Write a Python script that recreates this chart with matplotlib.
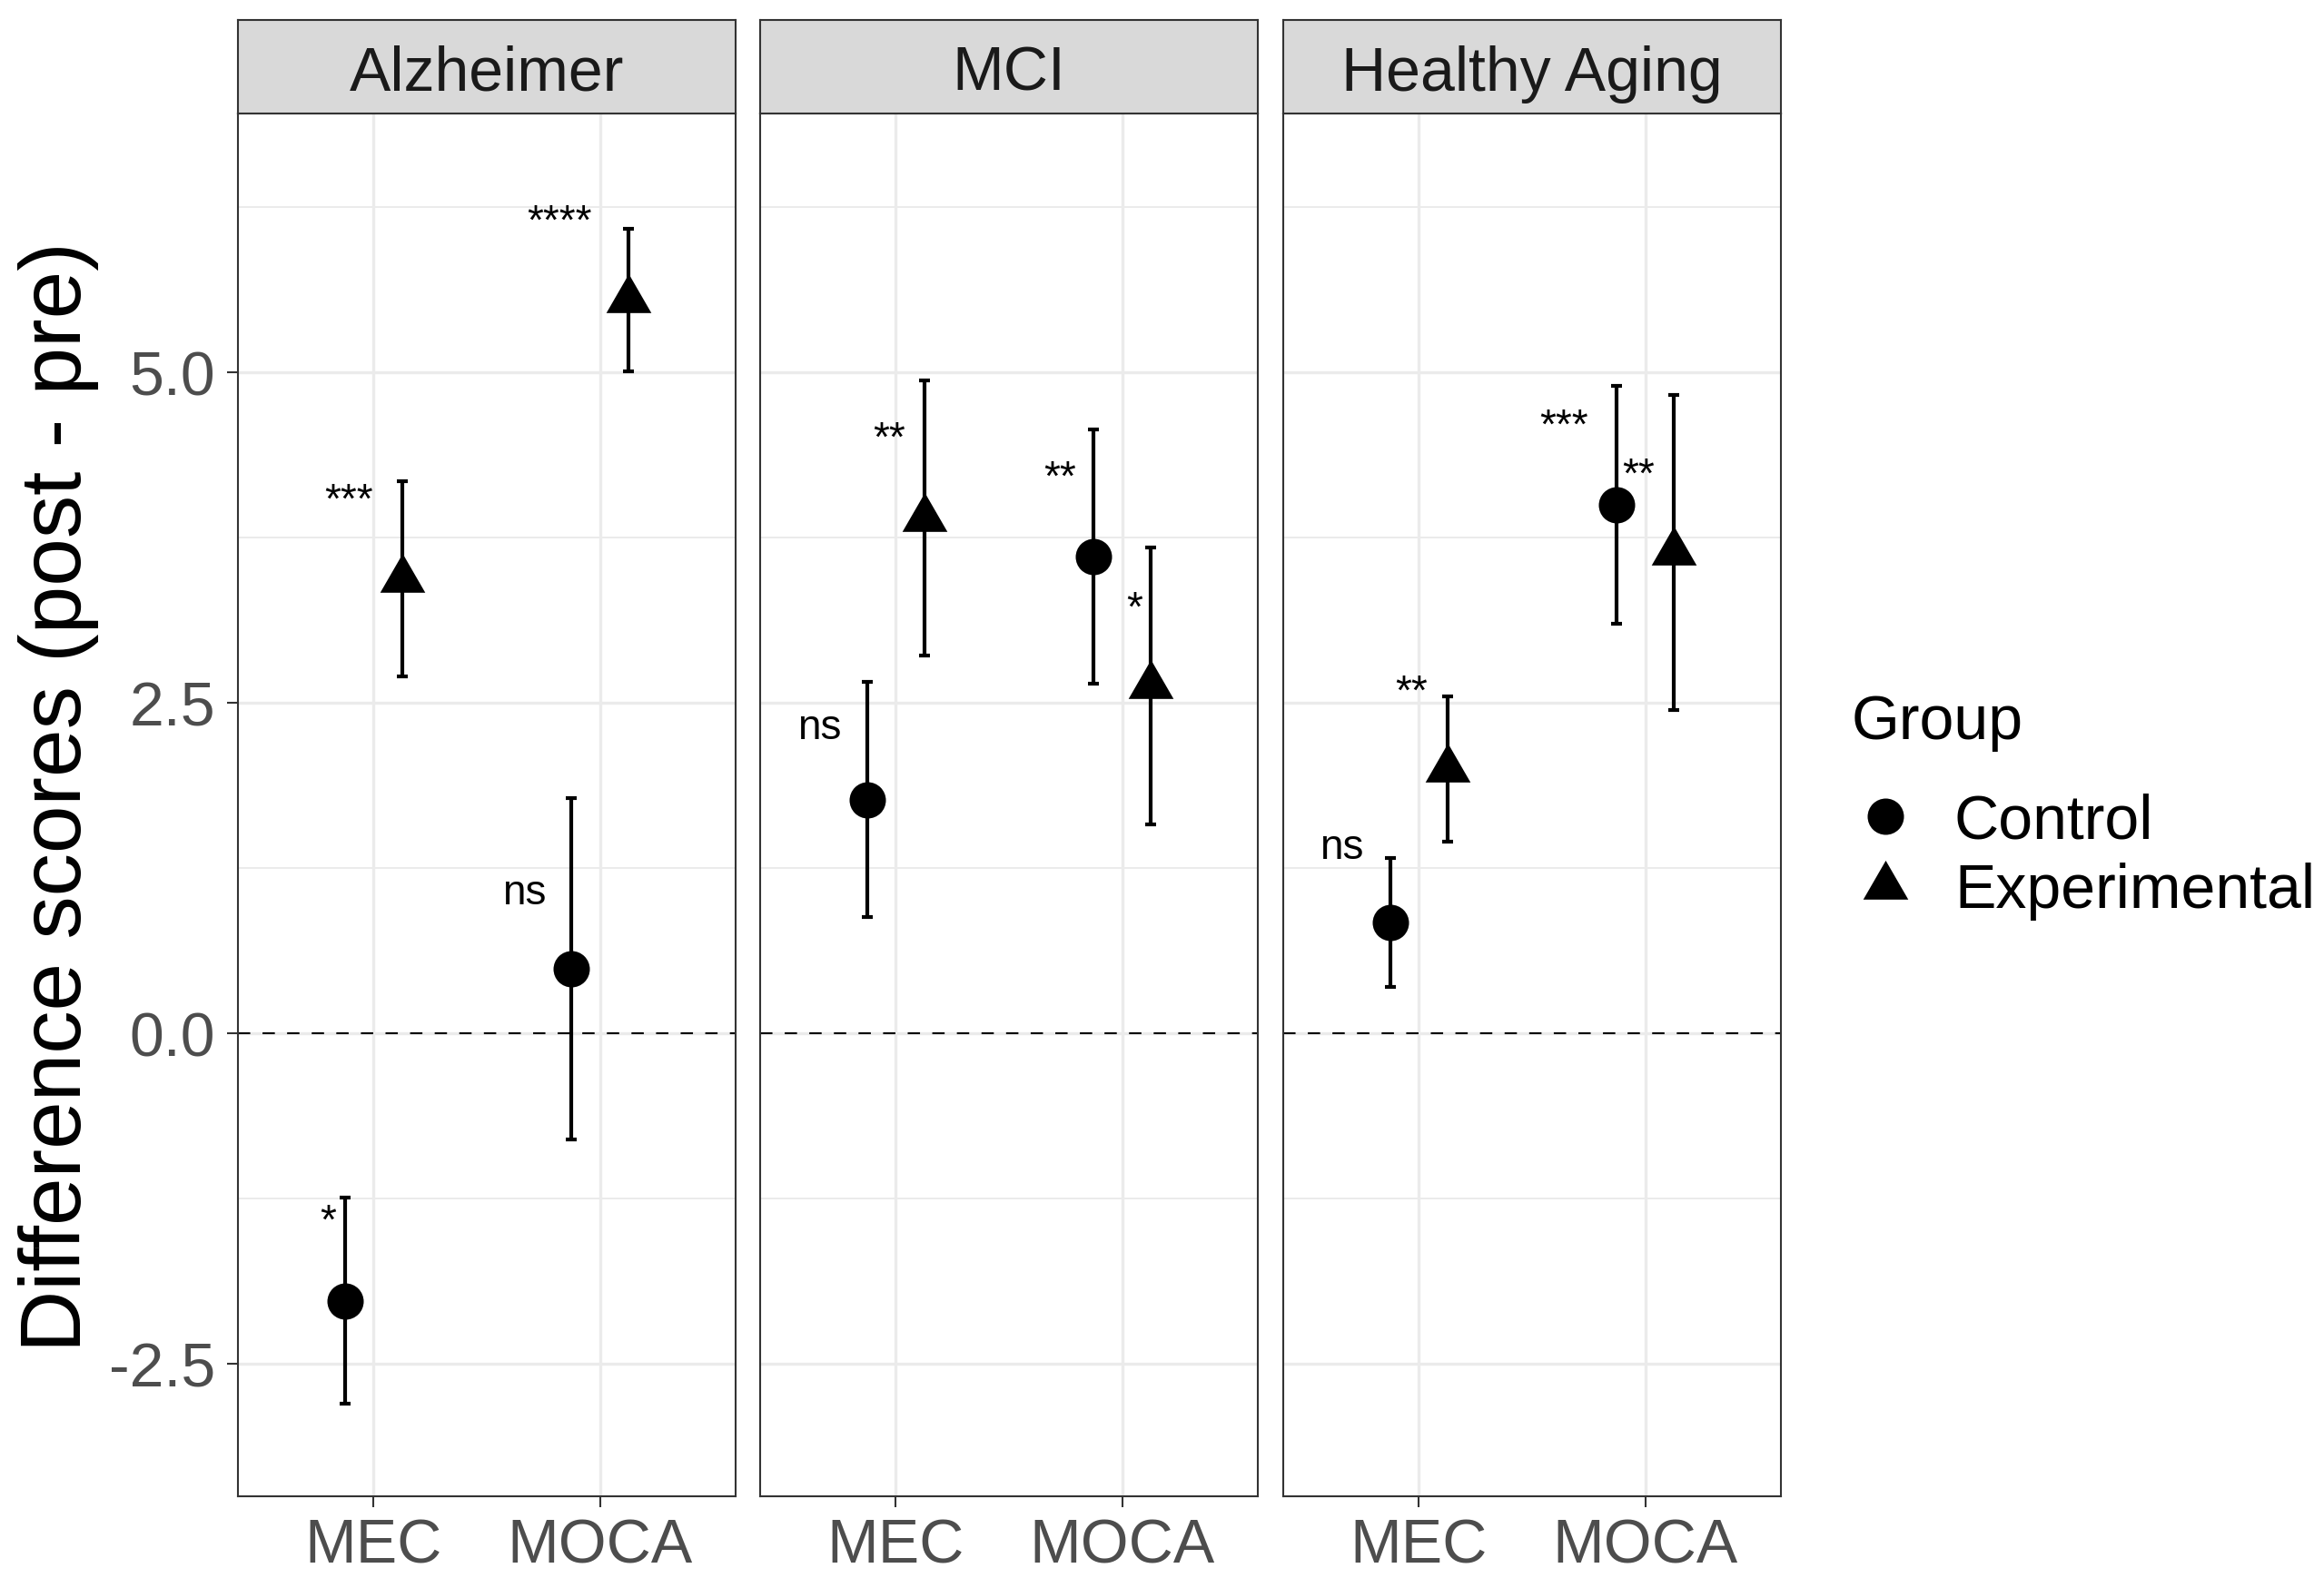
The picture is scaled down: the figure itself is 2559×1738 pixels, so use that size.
import numpy as np
import matplotlib.pyplot as plt
from matplotlib.lines import Line2D
from matplotlib.ticker import MultipleLocator

plt.rcParams['font.family'] = ['Liberation Sans', 'DejaVu Sans']

# data (difference scores post - pre, mean and half error bar)
conditions = ['Alzheimer', 'MCI', 'Healthy Aging']
tests = ['MEC', 'MOCA']
groups = ['Control', 'Experimental']

control_mean = [[-2.02, 0.49], [1.77, 3.61], [0.84, 4.00]]
control_err = [[0.78, 1.29], [0.89, 0.96], [0.49, 0.90]]
exp_mean = [[3.44, 5.55], [3.90, 2.63], [2.00, 3.64]]
exp_err = [[0.74, 0.54], [1.04, 1.05], [0.55, 1.19]]

# significance labels and where they sit (x on the category scale, y = baseline)
control_sig = [['*', 'ns'], ['ns', '**'], ['ns', '***']]
control_sig_x = [[0.80, 1.665], [0.661, 1.725], [0.657, 1.641]]
control_sig_y = [[-1.51, 0.975], [2.23, 4.11], [1.32, 4.505]]
exp_sig = [['***', '****'], ['**', '*'], ['**', '**']]
exp_sig_x = [[0.89, 1.82], [0.97, 2.055], [0.966, 1.97]]
exp_sig_y = [[3.94, 6.05], [4.41, 3.125], [2.49, 4.13]]

y_ticks = [-2.5, 0.0, 2.5, 5.0]

W, H = 2559, 1738
DPI = 100
fig = plt.figure(figsize=(W / DPI, H / DPI), dpi=DPI)


def px_rect(x0, y0, x1, y1):
    return [x0 / W, 1 - y1 / H, (x1 - x0) / W, (y1 - y0) / H]


# R style filled triangle (pch 17), centred on its centroid
TRI = [(0, 1.555), (1.347, -0.778), (-1.347, -0.778)]

panel_left = [262, 837, 1413]
panel_w = 548
panel_top, panel_bottom = 125, 1648
strip_top = 22
dodge = 0.125
fs = 49
border = '#333333'
bar_lw = 3.0

for i, cond in enumerate(conditions):
    x0 = panel_left[i]
    ax = fig.add_axes(px_rect(x0, panel_top, x0 + panel_w, panel_bottom))
    ax.set_xlim(0.4, 2.6)
    ax.set_ylim(-3.5, 6.96)
    ax.set_axisbelow(True)

    ax.set_yticks(y_ticks)
    ax.yaxis.set_minor_locator(MultipleLocator(1.25))
    ax.set_xticks([1, 2])
    ax.set_xticklabels(tests)
    ax.set_yticklabels([f'{t:.1f}' for t in y_ticks])
    ax.grid(which='major', color='#EBEBEB', lw=2.4)
    ax.grid(which='minor', axis='y', color='#EBEBEB', lw=1.4)
    ax.tick_params(which='minor', length=0)
    ax.tick_params(axis='both', length=8.6, width=1.5, color=border,
                   labelsize=fs, labelcolor='#4D4D4D')
    ax.tick_params(axis='x', pad=8.5)
    ax.tick_params(axis='y', pad=9.5)
    if i > 0:
        ax.tick_params(axis='y', left=False, labelleft=False)
    for sp in ax.spines.values():
        sp.set_color(border)
        sp.set_linewidth(1.5)

    ax.axhline(0, color='black', lw=1.5, ls=(0, (6.5, 6.5)))

    xpos = np.arange(1, 3)
    ax.errorbar(xpos - dodge, control_mean[i], yerr=control_err[i], fmt='none',
                ecolor='black', elinewidth=bar_lw, capsize=4.3, capthick=bar_lw)
    ax.errorbar(xpos + dodge, exp_mean[i], yerr=exp_err[i], fmt='none',
                ecolor='black', elinewidth=bar_lw, capsize=4.3, capthick=bar_lw)
    ax.plot(xpos - dodge, control_mean[i], ls='none', marker='o', ms=28.8,
            mew=0, color='black')
    ax.plot(xpos + dodge, exp_mean[i], ls='none', marker=TRI, ms=41.2,
            mew=0, color='black')

    for j in range(2):
        ax.text(control_sig_x[i][j], control_sig_y[i][j], control_sig[i][j],
                ha='center', va='baseline', fontsize=33, color='black')
        ax.text(exp_sig_x[i][j], exp_sig_y[i][j], exp_sig[i][j],
                ha='center', va='baseline', fontsize=33, color='black')

    # facet strip
    sax = fig.add_axes(px_rect(x0, strip_top, x0 + panel_w, panel_top))
    sax.set_facecolor('#D9D9D9')
    sax.set_xticks([])
    sax.set_yticks([])
    for sp in sax.spines.values():
        sp.set_color(border)
        sp.set_linewidth(1.5)
    sax.text(0.5, 0.42, cond, transform=sax.transAxes, ha='center', va='center',
             fontsize=fs, color='#1A1A1A')

fig.text(65 / W, 1 - 878 / H, 'Difference scores (post - pre)', rotation=90,
         ha='center', va='center', fontsize=68, color='black')

fig.text(2039 / W, 1 - 796 / H, 'Group', ha='left', va='center', fontsize=fs,
         color='black')
handles = [Line2D([], [], ls='none', marker='o', ms=28.8, mew=0, color='black'),
           Line2D([], [], ls='none', marker=TRI, ms=41.2, mew=0, color='black')]
fig.legend(handles=handles, labels=groups, loc='upper left',
           bbox_to_anchor=(2039 / W, 1 - 873 / H), frameon=False, fontsize=fs,
           handlelength=1.09, handletextpad=0.57, labelspacing=0.19,
           borderpad=0, borderaxespad=0)

fig.savefig('out.png', dpi=DPI)
